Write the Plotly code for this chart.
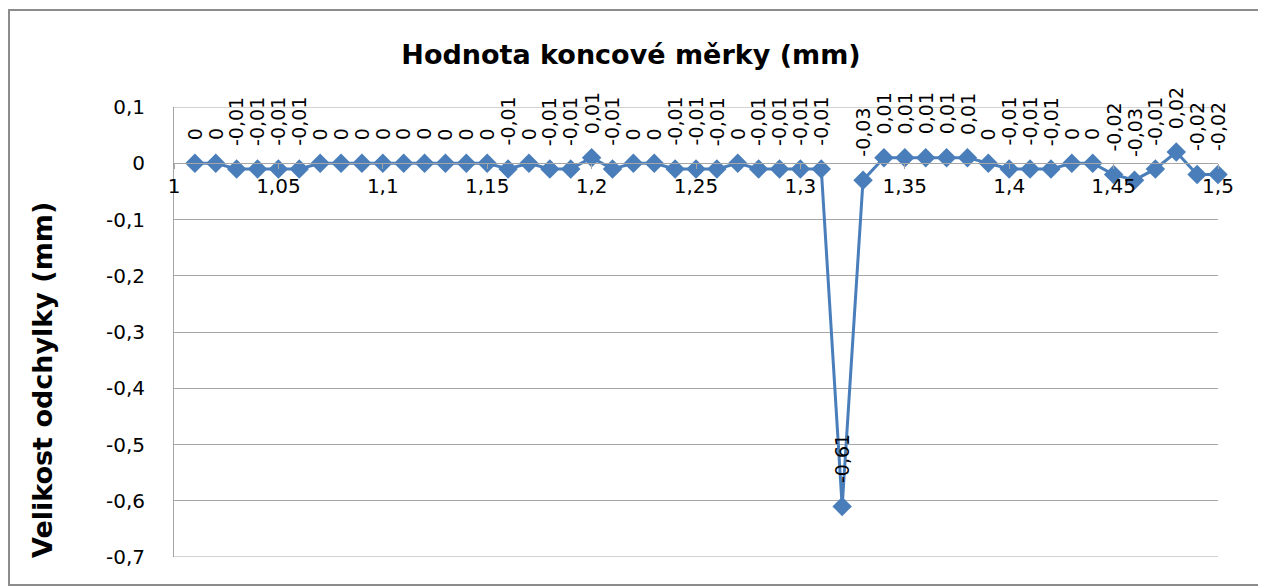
import plotly.graph_objects as go

x_vals = [round(1.01 + 0.01 * i, 2) for i in range(50)]
y_vals = [0, 0, -0.01, -0.01, -0.01, -0.01, 0, 0, 0, 0,
          0, 0, 0, 0, 0, -0.01, 0, -0.01, -0.01, 0.01,
          -0.01, 0, 0, -0.01, -0.01, -0.01, 0, -0.01, -0.01, -0.01,
          -0.01, -0.61, -0.03, 0.01, 0.01, 0.01, 0.01, 0.01, 0, -0.01,
          -0.01, -0.01, 0, 0, -0.02, -0.03, -0.01, 0.02, -0.02, -0.02]
x_ticks = [1, 1.05, 1.1, 1.15, 1.2, 1.25, 1.3, 1.35, 1.4, 1.45, 1.5]
y_ticks = [0.1, 0, -0.1, -0.2, -0.3, -0.4, -0.5, -0.6, -0.7]

def fmt(v):
    return ("%g" % v).replace(".", ",")

FONT = "DejaVu Sans"
W, H = 1258, 580
L, R, T, B = 166, 48, 99, 31
PW, PH = W - L - R, H - T - B
GRID = "#A6A6A6"

fig = go.Figure()
fig.add_trace(go.Scatter(
    x=x_vals, y=y_vals, mode="lines+markers",
    line=dict(color="#4A7EBB", width=3),
    marker=dict(symbol="diamond", size=15, color="#4A7EBB"),
    showlegend=False, cliponaxis=False,
))

annots = []
for xv, yv in zip(x_vals, y_vals):
    annots.append(dict(x=xv, y=yv, text=fmt(yv), textangle=-90, showarrow=False,
                       xanchor="center", yanchor="bottom", yshift=21,
                       font=dict(family=FONT, size=19, color="#000")))
annots.append(dict(xref="paper", yref="paper", x=(34 - L) / PW, y=(H - B - 372) / PH,
                   text="<b>Velikost odchylky (mm)</b>",
                   textangle=-90, showarrow=False, xanchor="center", yanchor="middle",
                   font=dict(family=FONT, size=27, color="#000")))

shapes = [dict(type="rect", xref="paper", yref="paper",
               x0=(1 - L) / PW, x1=(1255 - L) / PW,
               y0=(H - B - 577) / PH, y1=(H - B - 2) / PH,
               line=dict(color="#8C8C8C", width=2), fillcolor="rgba(0,0,0,0)", layer="below")]
for yv in (y_ticks[0], y_ticks[-1]):
    shapes.append(dict(type="line", xref="paper", yref="y", x0=0, x1=1, y0=yv, y1=yv,
                       line=dict(color=GRID, width=1), layer="below"))

fig.update_layout(
    width=W, height=H,
    margin=dict(l=L, r=R, t=T, b=B),
    paper_bgcolor="white", plot_bgcolor="white",
    separators=", ",
    title=dict(text="<b>Hodnota koncové měrky (mm)</b>", x=623 / W, xanchor="center",
               y=1 - 47 / H, yanchor="middle", font=dict(family=FONT, size=27, color="#000")),
    annotations=annots,
    xaxis=dict(range=[1, 1.5], tickvals=x_ticks, ticktext=[fmt(v) for v in x_ticks],
               anchor="free", position=0.875, showgrid=False, zeroline=False,
               showline=True, linecolor=GRID, linewidth=1,
               ticks="outside", ticklen=5, tickcolor=GRID,
               tickfont=dict(family=FONT, size=20, color="#000")),
    yaxis=dict(range=[-0.7, 0.1], tickvals=y_ticks, ticktext=[fmt(v) for v in y_ticks],
               showgrid=True, gridcolor=GRID, gridwidth=1, zeroline=False,
               showline=True, linecolor=GRID, linewidth=1,
               ticks="", ticklabelstandoff=24,
               tickfont=dict(family=FONT, size=20, color="#000")),
    shapes=shapes,
)
fig.write_html("out.html")
